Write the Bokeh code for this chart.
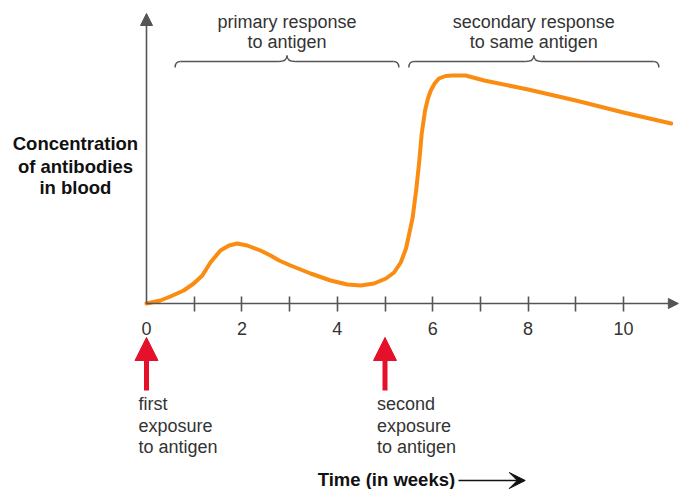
from bokeh.plotting import figure
from bokeh.models import Range1d, LinearAxis, FixedTicker, Arrow, NormalHead, VeeHead
from bokeh.core.properties import value
from bokeh.embed import file_html
from bokeh.resources import INLINE

# ---- data ----
weeks = [0, 0.29, 0.5, 0.78, 0.99, 1.17, 1.34, 1.55, 1.73, 1.9, 2.11, 2.39, 2.6, 2.78,
         3.02, 3.44, 3.86, 4.21, 4.49, 4.77, 5.02, 5.19, 5.33, 5.44, 5.5, 5.58, 5.66,
         5.72, 5.77, 5.84, 5.9, 5.96, 6.04, 6.13, 6.27, 6.41, 6.69, 7.08, 8, 9, 10, 11]
concentration = [0, 3, 7, 13, 20, 28, 41, 53, 58, 60, 58, 53, 48, 43,
                 38, 30, 23, 19, 18, 20, 25, 31, 41, 55, 68, 86, 116,
                 143, 170, 193, 205, 213, 220, 225, 227.5, 228, 228, 223, 214, 203, 191, 180]

label_weeks = [0, 2, 4, 6, 8, 10]
tick_weeks = [1, 2, 3, 4, 5, 6, 7, 8, 9, 10]

brace_start = [0.60, 5.50]
brace_end = [5.29, 10.74]
brace_line1 = ["primary response", "secondary response"]
brace_line2 = ["to antigen", "to same antigen"]

exposure_weeks = [0, 5]
exposure_line1 = ["first", "second"]
exposure_line2 = ["exposure", "exposure"]
exposure_line3 = ["to antigen", "to antigen"]

y_label_lines = ["Concentration", "of antibodies", "in blood"]
x_label = "Time (in weeks)"

# ---- styles ----
FONT = value("Liberation Sans")
GRAY = "#555555"
TEXT = "#333333"
ORANGE = "#FA8C12"
RED = "#E5102A"

p = figure(width=679, height=489, output_backend="svg", toolbar_location=None,
           x_range=Range1d(-3.061, 11.174), y_range=Range1d(-186, 303),
           x_axis_type=None, y_axis_type=None, min_border=0)
p.outline_line_color = None
p.xgrid.visible = False
p.ygrid.visible = False
p.background_fill_color = "white"

# x axis at y = 0
xaxis = LinearAxis(fixed_location=0, bounds=(0, 11.1),
                   ticker=FixedTicker(ticks=label_weeks, minor_ticks=tick_weeks))
xaxis.axis_line_color = GRAY
xaxis.axis_line_width = 1.6
xaxis.major_tick_line_color = None
xaxis.major_tick_in = 0
xaxis.major_tick_out = 0
xaxis.minor_tick_line_color = GRAY
xaxis.minor_tick_line_width = 1.6
xaxis.minor_tick_in = 7
xaxis.minor_tick_out = 8
xaxis.major_label_text_font = "Liberation Sans"
xaxis.major_label_text_font_size = "18px"
xaxis.major_label_text_color = TEXT
xaxis.major_label_standoff = 10
p.add_layout(xaxis, "below")

# y axis at x = 0
yaxis = LinearAxis(fixed_location=0, bounds=(0, 285), ticker=FixedTicker(ticks=[]))
yaxis.axis_line_color = GRAY
yaxis.axis_line_width = 1.6
yaxis.major_label_text_font_size = "0px"
p.add_layout(yaxis, "left")

# axis arrow heads
p.add_layout(Arrow(x_start=0, y_start=280, x_end=0, y_end=290, line_width=0, line_alpha=0,
                   end=NormalHead(size=12, fill_color=GRAY, line_color=GRAY)))
p.add_layout(Arrow(x_start=10.95, y_start=0, x_end=11.15, y_end=0, line_width=0, line_alpha=0,
                   end=NormalHead(size=10, fill_color=GRAY, line_color=GRAY)))

# antibody curve
p.line(weeks, concentration, line_color=ORANGE, line_width=4, line_join="round", line_cap="round")

# braces
yb, yend, ytip = 242, 236, 248
rx, tx = 0.11, 0.17
mids = [(a + b) / 2 for a, b in zip(brace_start, brace_end)]
qx0, qy0, qx1, qy1, qcx, qcy = [], [], [], [], [], []
sx0, sx1 = [], []
for a, b, m in zip(brace_start, brace_end, mids):
    qx0 += [a, b, m - tx, m + tx]
    qy0 += [yend, yend, yb, yb]
    qx1 += [a + rx, b - rx, m, m]
    qy1 += [yb, yb, ytip, ytip]
    qcx += [a, b, m, m]
    qcy += [yb, yb, yb, yb]
    sx0 += [a + rx, m + tx]
    sx1 += [m - tx, b - rx]
p.quadratic(x0=qx0, y0=qy0, x1=qx1, y1=qy1, cx=qcx, cy=qcy, line_color=GRAY, line_width=1.4)
p.segment(x0=sx0, y0=[yb] * len(sx0), x1=sx1, y1=[yb] * len(sx1), line_color=GRAY, line_width=1.4)

p.text(x=mids, y=[282] * 2, text=brace_line1, text_font=FONT, text_font_size=value("18px"),
       text_color=TEXT, text_align="center", text_baseline="middle")
p.text(x=mids, y=[261.5] * 2, text=brace_line2, text_font=FONT, text_font_size=value("18px"),
       text_color=TEXT, text_align="center", text_baseline="middle")

# y label
p.text(x=[-1.49] * 3, y=[160, 137, 116], text=y_label_lines, text_font=FONT,
       text_font_size=value("18.5px"), text_font_style="bold", text_color="#111111",
       text_align="center", text_baseline="middle")

# exposure arrows and texts
for w in exposure_weeks:
    p.add_layout(Arrow(x_start=w, y_start=-87, x_end=w, y_end=-34, line_color=RED, line_width=5,
                       end=NormalHead(size=23, fill_color=RED, line_color=RED, line_width=1)))
ex = [w - 0.17 for w in exposure_weeks]
p.text(x=ex, y=[-100.5] * 2, text=exposure_line1, text_font=FONT, text_font_size=value("18px"),
       text_color=TEXT, text_align="left", text_baseline="middle")
p.text(x=ex, y=[-122.3] * 2, text=exposure_line2, text_font=FONT, text_font_size=value("18px"),
       text_color=TEXT, text_align="left", text_baseline="middle")
p.text(x=ex, y=[-143.5] * 2, text=exposure_line3, text_font=FONT, text_font_size=value("18px"),
       text_color=TEXT, text_align="left", text_baseline="middle")

# x label with arrow
p.text(x=[6.47], y=[-176], text=[x_label], text_font=FONT, text_font_size=value("18.5px"),
       text_font_style="bold", text_color="#111111", text_align="right", text_baseline="middle")
p.add_layout(Arrow(x_start=6.54, y_start=-177, x_end=7.94, y_end=-177, line_color="#111111",
                   line_width=1.6, end=VeeHead(size=16, fill_color="#111111", line_color="#111111")))

open("out.html", "w").write(file_html(p, INLINE))
